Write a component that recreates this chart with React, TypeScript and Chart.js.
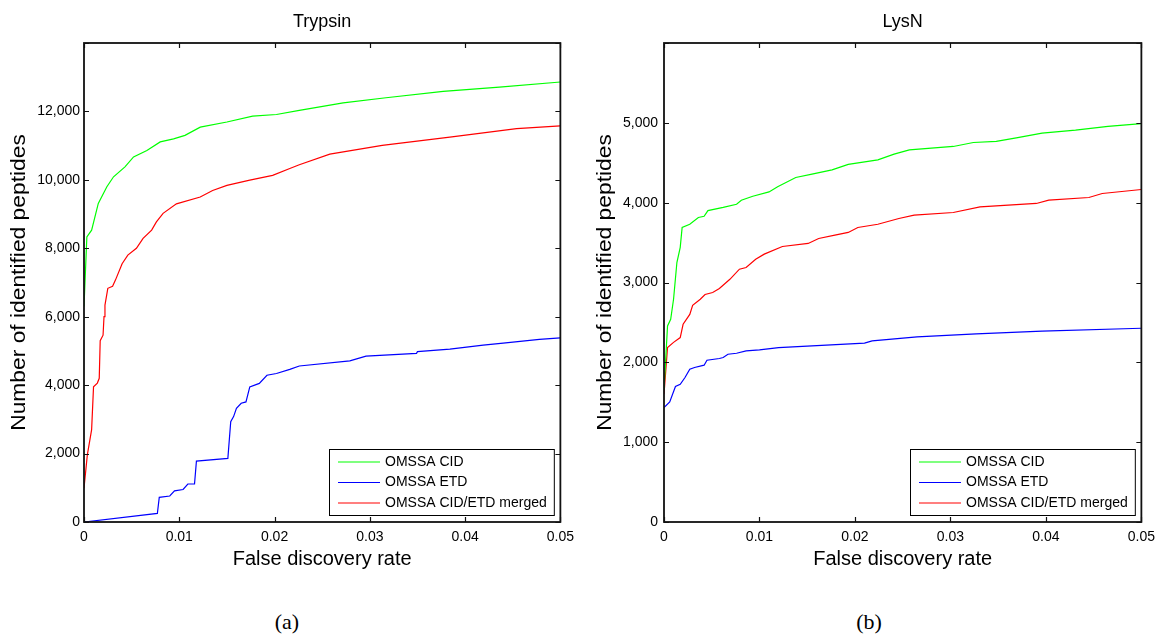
import React, { useEffect, useRef } from "react";
import { Chart, registerables } from "chart.js";
Chart.register(...registerables);

const FONT = "'Liberation Sans', Arial, Helvetica, sans-serif";

const seriesLabels = ["OMSSA CID", "OMSSA ETD", "OMSSA CID/ETD merged"];
const seriesColors = ["#00ff00", "#0000ff", "#ff0000"];

const xTickValues = [0, 0.01, 0.02, 0.03, 0.04, 0.05];
const trypsinYTicks = [0, 2000, 4000, 6000, 8000, 10000, 12000, 14000];
const lysnYTicks = [0, 1000, 2000, 3000, 4000, 5000, 6000];

// Trypsin
const trypsinCidX = [0, 0.0003, 0.0008, 0.0015, 0.0024, 0.0031, 0.0043, 0.0052, 0.0066, 0.008, 0.0094, 0.0106, 0.0122, 0.015, 0.0177, 0.0202, 0.0226, 0.0272, 0.0317, 0.0377, 0.0436, 0.05];
const trypsinCidY = [6300, 8330, 8530, 9310, 9800, 10090, 10380, 10670, 10860, 11110, 11200, 11300, 11540, 11690, 11860, 11910, 12030, 12250, 12400, 12585, 12710, 12860];

const trypsinEtdX = [0, 0.0077, 0.0079, 0.009, 0.0095, 0.0104, 0.0109, 0.0116, 0.0118, 0.0151, 0.0154, 0.0157, 0.016, 0.0165, 0.017, 0.0174, 0.0184, 0.0192, 0.0202, 0.0216, 0.0226, 0.0279, 0.0296, 0.0349, 0.035, 0.0384, 0.0419, 0.044, 0.0478, 0.05];
const trypsinEtdY = [0, 250, 720, 760, 910, 950, 1110, 1110, 1780, 1860, 2930, 3080, 3320, 3470, 3510, 3950, 4050, 4290, 4340, 4460, 4560, 4710, 4850, 4930, 4980, 5050, 5170, 5230, 5340, 5380];

const trypsinMergedX = [0, 0.00035, 0.0008, 0.001, 0.0014, 0.0016, 0.0017, 0.002, 0.0021, 0.0022, 0.0025, 0.003, 0.0033, 0.004, 0.0046, 0.0055, 0.0062, 0.0071, 0.0076, 0.0083, 0.0097, 0.0122, 0.0135, 0.015, 0.0174, 0.0198, 0.0216, 0.0226, 0.0258, 0.0313, 0.0384, 0.0454, 0.05];
const trypsinMergedY = [990, 1960, 2700, 3950, 4060, 4200, 5300, 5460, 6000, 6340, 6830, 6890, 7070, 7550, 7800, 8000, 8290, 8530, 8770, 9020, 9300, 9500, 9690, 9840, 9990, 10130, 10330, 10440, 10750, 11010, 11250, 11500, 11580];

// LysN
const lysnCidX = [0, 0.00037, 0.0007, 0.001, 0.00135, 0.0017, 0.0019, 0.0027, 0.0036, 0.0042, 0.0046, 0.0062, 0.0076, 0.0081, 0.0093, 0.011, 0.0119, 0.0138, 0.0155, 0.0176, 0.0193, 0.0224, 0.0241, 0.0257, 0.0303, 0.0324, 0.0348, 0.0369, 0.0396, 0.0431, 0.0465, 0.05];
const lysnCidY = [1660, 2456, 2540, 2790, 3250, 3440, 3690, 3730, 3815, 3830, 3900, 3940, 3980, 4030, 4080, 4135, 4200, 4315, 4357, 4410, 4480, 4536, 4608, 4662, 4704, 4754, 4767, 4812, 4871, 4909, 4955, 4990];

const lysnEtdX = [0, 0.0006, 0.0012, 0.0017, 0.0022, 0.0027, 0.0032, 0.0042, 0.0045, 0.0058, 0.0062, 0.0067, 0.0076, 0.0086, 0.01, 0.012, 0.0155, 0.021, 0.0218, 0.0265, 0.0327, 0.0396, 0.05];
const lysnEtdY = [1433, 1504, 1697, 1725, 1810, 1913, 1935, 1964, 2026, 2048, 2060, 2101, 2114, 2143, 2155, 2185, 2206, 2240, 2268, 2318, 2356, 2390, 2427];

const lysnMergedX = [0, 0.00037, 0.001, 0.0017, 0.002, 0.0027, 0.003, 0.0038, 0.0043, 0.0051, 0.0058, 0.0069, 0.0079, 0.0086, 0.0096, 0.0105, 0.0124, 0.0151, 0.0162, 0.0179, 0.0193, 0.0203, 0.0224, 0.0246, 0.0262, 0.0303, 0.0331, 0.039, 0.0403, 0.0445, 0.0459, 0.05];
const lysnMergedY = [1600, 2185, 2250, 2310, 2477, 2600, 2715, 2790, 2850, 2875, 2925, 3040, 3167, 3188, 3292, 3355, 3451, 3489, 3551, 3593, 3627, 3689, 3730, 3802, 3843, 3877, 3947, 3990, 4031, 4065, 4115, 4165];

const yAxisTitle = "Number of identified peptides";
const xAxisTitle = "False discovery rate";

const zip = (xs: number[], ys: number[]) => xs.map((x, i) => ({ x, y: ys[i] }));

const CANVAS_W = 581;
const CANVAS_H = 580;

type PanelProps = {
  title: string;
  seriesX: number[][];
  seriesY: number[][];
  yTicks: number[];
  yAxisWidth: number;
  rightPad: number;
  yTitleX: number;
  yLabelPad: number;
  left: number;
};

const framePlugin = {
  id: "frame",
  afterDraw(chart: any, _args: any, opts: any) {
    const { ctx, chartArea } = chart;
    const { left, right, top, bottom } = chartArea;
    const xs = chart.scales.x;
    const ys = chart.scales.y;
    ctx.save();
    // title
    ctx.fillStyle = "#000";
    ctx.font = `18px ${FONT}`;
    ctx.textAlign = "center";
    ctx.textBaseline = "middle";
    ctx.fillText(opts.title, (left + right) / 2, 22);

    // y axis title (slightly elongated like the reference)
    ctx.save();
    ctx.translate(opts.yTitleX, (top + bottom) / 2);
    ctx.rotate(-Math.PI / 2);
    ctx.scale(1.14, 1);
    ctx.font = `20px ${FONT}`;
    ctx.fillText(yAxisTitle, 0, 0);
    ctx.restore();

    // ticks (inward)
    ctx.strokeStyle = "#111";
    ctx.lineWidth = 1.2;
    const tl = 5;
    ctx.beginPath();
    xs.ticks.forEach((t: any) => {
      const px = Math.round(xs.getPixelForValue(t.value)) + 0.5;
      ctx.moveTo(px, bottom);
      ctx.lineTo(px, bottom - tl);
      ctx.moveTo(px, top);
      ctx.lineTo(px, top + tl);
    });
    ys.ticks.forEach((t: any) => {
      const py = Math.round(ys.getPixelForValue(t.value)) + 0.5;
      ctx.moveTo(left, py);
      ctx.lineTo(left + tl, py);
      ctx.moveTo(right, py);
      ctx.lineTo(right - tl, py);
    });
    ctx.stroke();

    // frame
    ctx.lineWidth = 1.8;
    ctx.strokeStyle = "#111";
    ctx.strokeRect(left, top, right - left, bottom - top);

    // legend
    ctx.font = `14px ${FONT}`;
    const labels = chart.data.datasets.map((d: any) => d.label);
    const maxW = Math.max(...labels.map((l: string) => ctx.measureText(l).width));
    const w = 56 + maxW + 7;
    const h = 66;
    const bx = Math.round(right - 7 - w);
    const by = Math.round(bottom - 7 - h);
    ctx.fillStyle = "#fff";
    ctx.fillRect(bx, by, w, h);
    ctx.lineWidth = 1;
    ctx.strokeStyle = "#000";
    ctx.strokeRect(bx + 0.5, by + 0.5, w, h);
    chart.data.datasets.forEach((d: any, i: number) => {
      const ry = by + 13 + i * 20.5;
      ctx.strokeStyle = d.borderColor;
      ctx.lineWidth = 1.2;
      ctx.beginPath();
      ctx.moveTo(bx + 9, ry);
      ctx.lineTo(bx + 51, ry);
      ctx.stroke();
      ctx.fillStyle = "#000";
      ctx.textAlign = "left";
      ctx.textBaseline = "middle";
      ctx.fillText(d.label, bx + 56, ry);
    });
    ctx.restore();
  },
};

function Panel(props: PanelProps) {
  const ref = useRef<HTMLCanvasElement | null>(null);
  useEffect(() => {
    if (!ref.current) return;
    const yMax = props.yTicks[props.yTicks.length - 1];
    const yStep = props.yTicks[1] - props.yTicks[0];
    const chart = new Chart(ref.current, {
      type: "line",
      data: {
        datasets: seriesLabels.map((label, i) => ({
          label,
          data: zip(props.seriesX[i], props.seriesY[i]),
          borderColor: seriesColors[i],
          backgroundColor: seriesColors[i],
          borderWidth: 1.2,
          pointRadius: 0,
          tension: 0,
          fill: false,
        })),
      },
      options: {
        animation: false,
        responsive: false,
        layout: { padding: { left: 0, right: props.rightPad, top: 43, bottom: 0 } },
        plugins: {
          legend: { display: false },
          title: { display: false },
          tooltip: { enabled: false },
          frame: { title: props.title, yTitleX: props.yTitleX },
        } as any,
        scales: {
          x: {
            type: "linear",
            min: 0,
            max: xTickValues[xTickValues.length - 1],
            afterBuildTicks: (s: any) => {
              s.ticks = xTickValues.map((v) => ({ value: v }));
            },
            afterFit: (s: any) => {
              s.height = CANVAS_H - 522;
            },
            grid: { display: false, drawTicks: false },
            border: { display: false },
            ticks: {
              padding: 7,
              color: "#000",
              font: { size: 14, family: FONT },
              maxRotation: 0,
              autoSkip: false,
              callback: (v: any) => (Number(v) === 0 ? "0" : Number(v).toFixed(2)),
            },
            title: {
              display: true,
              text: xAxisTitle,
              color: "#000",
              font: { size: 20, family: FONT },
              padding: { top: 0, bottom: 9 },
            },
          },
          y: {
            type: "linear",
            min: 0,
            max: yMax,
            afterBuildTicks: (s: any) => {
              s.ticks = props.yTicks.map((v) => ({ value: v }));
            },
            afterFit: (s: any) => {
              s.width = props.yAxisWidth;
            },
            grid: { display: false, drawTicks: false },
            border: { display: false },
            ticks: {
              stepSize: yStep,
              padding: props.yLabelPad,
              color: "#000",
              font: { size: 14, family: FONT },
              autoSkip: false,
              callback: (v: any) => (Number(v) >= yMax ? "" : Number(v).toLocaleString("en-US")),
            },
            title: { display: false },
          },
        },
      },
      plugins: [framePlugin as any],
    });
    return () => chart.destroy();
  }, []);
  return (
    <canvas
      ref={ref}
      width={CANVAS_W}
      height={CANVAS_H}
      style={{ position: "absolute", left: props.left, top: 0, width: CANVAS_W, height: CANVAS_H }}
    />
  );
}

const captionStyle: React.CSSProperties = {
  position: "absolute",
  top: 608,
  width: 60,
  textAlign: "center",
  fontFamily: "'Liberation Serif', 'DejaVu Serif', serif",
  fontSize: 22,
  lineHeight: "28px",
  color: "#000",
};

export default function App() {
  return (
    <div style={{ position: "absolute", left: 0, top: 0, width: 1162, height: 637, background: "#fff", overflow: "hidden" }}>
      <Panel
        title="Trypsin"
        seriesX={[trypsinCidX, trypsinEtdX, trypsinMergedX]}
        seriesY={[trypsinCidY, trypsinEtdY, trypsinMergedY]}
        yTicks={trypsinYTicks}
        yAxisWidth={84}
        rightPad={20}
        yTitleX={19}
        yLabelPad={4}
        left={0}
      />
      <Panel
        title="LysN"
        seriesX={[lysnCidX, lysnEtdX, lysnMergedX]}
        seriesY={[lysnCidY, lysnEtdY, lysnMergedY]}
        yTicks={lysnYTicks}
        yAxisWidth={83}
        rightPad={15}
        yTitleX={24}
        yLabelPad={6}
        left={581}
      />
      <div style={{ ...captionStyle, left: 257 }}>(a)</div>
      <div style={{ ...captionStyle, left: 839 }}>(b)</div>
    </div>
  );
}
